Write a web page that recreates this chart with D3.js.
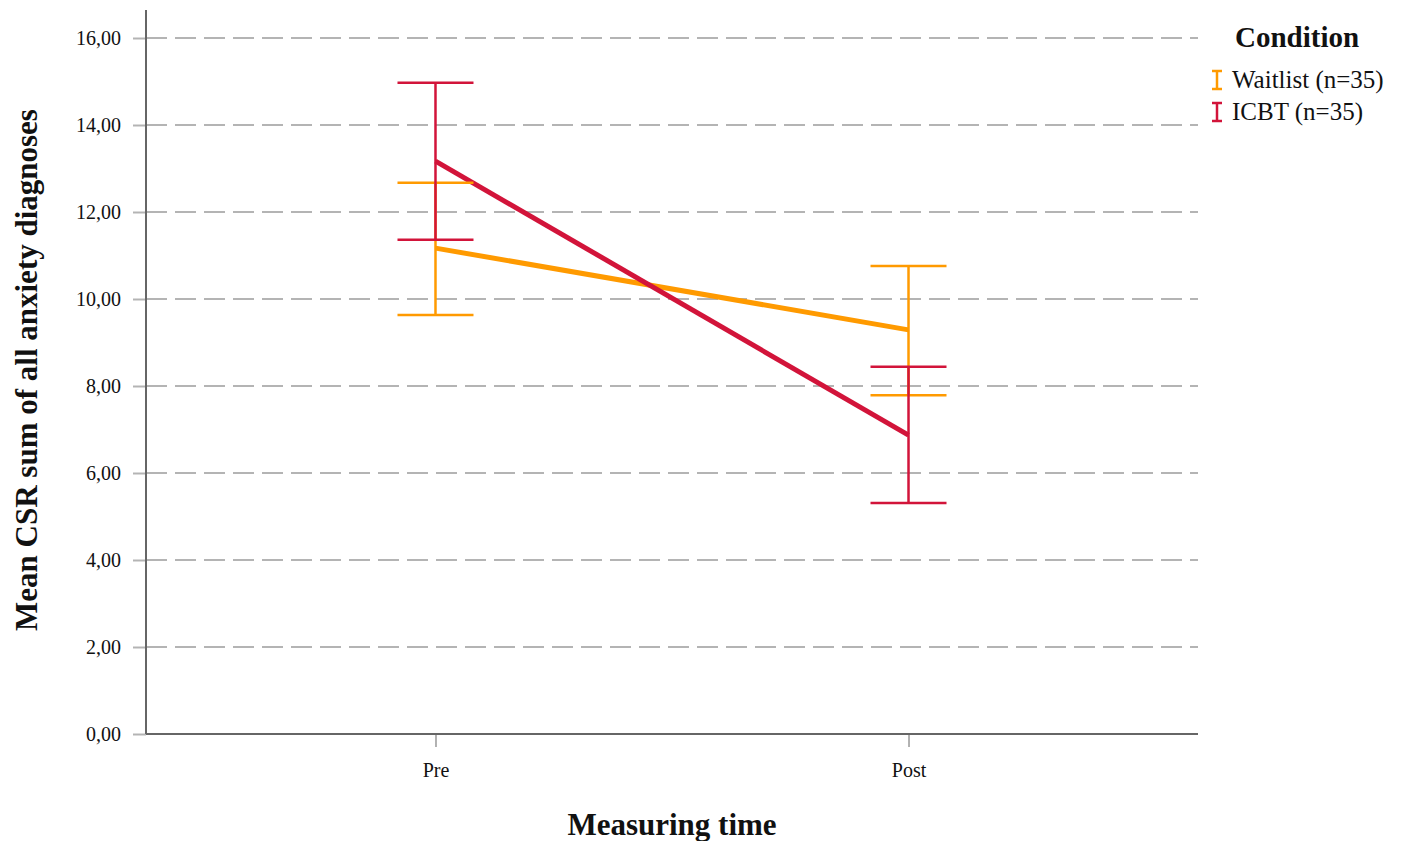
<!DOCTYPE html>
<html><head><meta charset="utf-8">
<script src="https://cdn.jsdelivr.net/npm/d3@7"></script>
<style>body{margin:0;background:#fff}svg{display:block}</style>
</head><body>
<svg id="c" width="1406" height="841"></svg>
<script>
const categories = ["Pre", "Post"];
const seriesNames = ["Waitlist (n=35)", "ICBT (n=35)"];
const waitlistMean = [11.17, 9.29];
const waitlistLow = [9.63, 7.79];
const waitlistHigh = [12.67, 10.76];
const icbtMean = [13.17, 6.87];
const icbtLow = [11.36, 5.31];
const icbtHigh = [14.97, 8.44];
const yTicks = [0, 2, 4, 6, 8, 10, 12, 14, 16];
const colors = ["#FF9A00", "#D2143A"];

const series = [
  {name: seriesNames[0], mean: waitlistMean, low: waitlistLow, high: waitlistHigh, color: colors[0]},
  {name: seriesNames[1], mean: icbtMean, low: icbtLow, high: icbtHigh, color: colors[1]}
];

const svg = d3.select("#c");
const L = 146, R = 1198, T = 10, B = 734;
const y = d3.scaleLinear().domain([0, 16]).range([B, 38]);
const x = d3.scalePoint().domain(categories).range([L, R]).padding(0.612);
const serif = "'Liberation Serif', 'Times New Roman', serif";

// gridlines
svg.append("g").selectAll("line").data(yTicks.filter(d => d > 0)).join("line")
  .attr("x1", L).attr("x2", R).attr("y1", d => y(d)).attr("y2", d => y(d))
  .attr("stroke", "#b4b4b4").attr("stroke-width", 2).attr("stroke-dasharray", "21,8");

// y axis
const yAxis = svg.append("g").attr("transform", `translate(${L},0)`)
  .call(d3.axisLeft(y).tickValues(yTicks).tickSize(13).tickPadding(12)
    .tickFormat(d => d3.format(".2f")(d).replace(".", ",")));
yAxis.select(".domain").remove();
yAxis.selectAll(".tick line").attr("stroke", "#b4b4b4").attr("stroke-width", 2);
yAxis.selectAll("text").attr("font-family", serif).attr("font-size", 20).attr("fill", "#111");
svg.append("line").attr("x1", L).attr("x2", L).attr("y1", T).attr("y2", B)
  .attr("stroke", "#666").attr("stroke-width", 2);

// x axis
const xAxis = svg.append("g").attr("transform", `translate(0,${B})`)
  .call(d3.axisBottom(x).tickSize(13).tickPadding(16));
xAxis.select(".domain").remove();
xAxis.selectAll(".tick line").attr("stroke", "#999").attr("stroke-width", 1.5);
xAxis.selectAll("text").attr("font-family", serif).attr("font-size", 20).attr("fill", "#111");
svg.append("line").attr("x1", L).attr("x2", R).attr("y1", B).attr("y2", B)
  .attr("stroke", "#666").attr("stroke-width", 2);

// mean lines
const line = d3.line().x((d, i) => x(categories[i])).y(d => y(d));
svg.append("g").selectAll("path").data(series).join("path")
  .attr("d", s => line(s.mean)).attr("fill", "none")
  .attr("stroke", s => s.color).attr("stroke-width", 5);

// error bars
const capW = 38;
series.forEach(s => {
  const g = svg.append("g").attr("stroke", s.color).attr("stroke-width", 2.5);
  categories.forEach((c, i) => {
    const cx = x(c);
    g.append("line").attr("x1", cx).attr("x2", cx).attr("y1", y(s.low[i])).attr("y2", y(s.high[i]));
    g.append("line").attr("x1", cx - capW).attr("x2", cx + capW).attr("y1", y(s.low[i])).attr("y2", y(s.low[i]));
    g.append("line").attr("x1", cx - capW).attr("x2", cx + capW).attr("y1", y(s.high[i])).attr("y2", y(s.high[i]));
  });
});

// axis titles
svg.append("text").attr("x", 672).attr("y", 835).attr("text-anchor", "middle")
  .attr("font-family", serif).attr("font-weight", "bold").attr("font-size", 31).attr("fill", "#111")
  .text("Measuring time");
svg.append("text").attr("transform", "translate(37,370) rotate(-90)").attr("text-anchor", "middle")
  .attr("font-family", serif).attr("font-weight", "bold").attr("font-size", 31).attr("fill", "#111")
  .text("Mean CSR sum of all anxiety diagnoses");

// legend
svg.append("text").attr("x", 1235).attr("y", 47)
  .attr("font-family", serif).attr("font-weight", "bold").attr("font-size", 29).attr("fill", "#111")
  .text("Condition");
const lg = svg.append("g").selectAll("g").data(series).join("g")
  .attr("transform", (d, i) => `translate(1217,${80 + i * 32})`);
lg.append("line").attr("x1", 0).attr("x2", 0).attr("y1", -9).attr("y2", 9).attr("stroke", d => d.color).attr("stroke-width", 2.5);
lg.append("line").attr("x1", -5).attr("x2", 5).attr("y1", -9).attr("y2", -9).attr("stroke", d => d.color).attr("stroke-width", 2.5);
lg.append("line").attr("x1", -5).attr("x2", 5).attr("y1", 9).attr("y2", 9).attr("stroke", d => d.color).attr("stroke-width", 2.5);
lg.append("text").attr("x", 15).attr("y", 8)
  .attr("font-family", serif).attr("font-size", 25).attr("fill", "#111")
  .text(d => d.name);
</script>
</body></html>
